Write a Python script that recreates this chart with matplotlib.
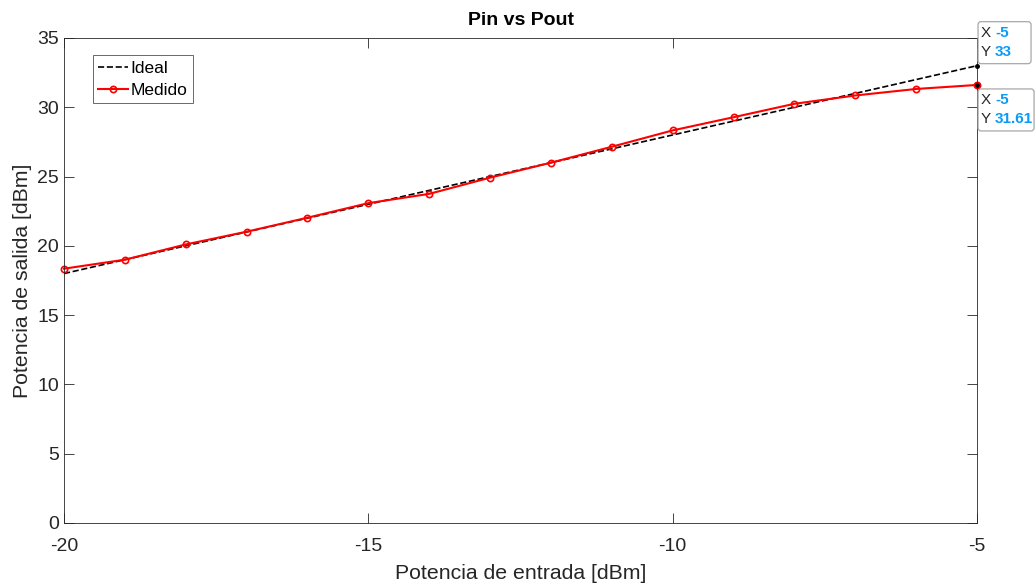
import numpy as np
import matplotlib.pyplot as plt
from matplotlib.patches import FancyBboxPatch
from matplotlib.transforms import IdentityTransform

# potencia de entrada [dBm]
pin = np.arange(-20, -4, 1)
# potencia de salida medida [dBm]
pout_medido = [18.35, 19.0, 20.1, 21.02, 22.03, 23.08, 23.75, 24.92,
               26.0, 27.15, 28.33, 29.28, 30.25, 30.85, 31.32, 31.61]
ganancia = 38  # recta ideal: Pout = Pin + G
pout_ideal = pin + ganancia

plt.rcParams["font.family"] = ["Liberation Sans", "DejaVu Sans"]
plt.rcParams["axes.unicode_minus"] = False

fig = plt.figure(figsize=(10.36, 5.84), dpi=100)
ax = fig.add_axes([0.0618, 0.1045, 0.8813, 0.8305])

ax.plot(pin, pout_ideal, "k--", linewidth=1.2, label="Ideal")
ax.plot(pin, pout_medido, "r-o", linewidth=1.5, markersize=4.5, clip_on=False,
        markerfacecolor="none", markeredgewidth=1.2, label="Medido")

ax.set_xlim(-20, -5)
ax.set_ylim(0, 35)
ax.set_xticks([-20, -15, -10, -5])
ax.set_yticks(range(0, 36, 5))
ax.tick_params(direction="in", top=True, right=True, labelsize=14,
               length=7, width=0.6, colors="#262626")
ax.tick_params(axis="x", pad=11)
for s in ax.spines.values():
    s.set_color("#262626")
    s.set_linewidth(0.6)

ax.set_title("Pin vs Pout", fontsize=14, fontweight="bold", pad=9)
ax.set_xlabel("Potencia de entrada [dBm]", fontsize=15.3, color="#262626", labelpad=6)
ax.set_ylabel("Potencia de salida [dBm]", fontsize=15.3, color="#262626", labelpad=4)

leg = ax.legend(loc="upper left", bbox_to_anchor=(0.032, 0.964), fontsize=12.5,
                frameon=True, fancybox=False, borderpad=0.3, handlelength=1.7,
                handletextpad=0.15, labelspacing=0.4, borderaxespad=0)
leg.get_frame().set_edgecolor("#262626")
leg.get_frame().set_linewidth(0.6)

# data tips en el último punto, en píxeles respecto al dato
azul = "#0a9bf5"
pix = IdentityTransform()
x_tip = pin[-1]
tips = [(pout_ideal[-1], 2, 53), (pout_medido[-1], -46, 56)]
for y_tip, dy, ancho in tips:
    ax.plot([x_tip], [y_tip], "o", color="k", markersize=2.5, clip_on=False, zorder=5)
    px, py = ax.transData.transform((x_tip, y_tip))
    caja = FancyBboxPatch((px + 1, py + dy), ancho, 42, transform=pix,
                          boxstyle="round,pad=0,rounding_size=3",
                          fc="white", ec="#a8a8a8", lw=0.9, zorder=5)
    fig.add_artist(caja)
    fig.text(px + 4, py + dy + 31, "X", transform=pix, fontsize=11,
             color="#262626", va="center", ha="left", zorder=6)
    fig.text(px + 4, py + dy + 12, "Y", transform=pix, fontsize=11,
             color="#262626", va="center", ha="left", zorder=6)
    fig.text(px + 18, py + dy + 31, "%g" % x_tip, transform=pix, fontsize=11,
             color=azul, fontweight="bold", va="center", ha="left", zorder=6)
    fig.text(px + 18, py + dy + 12, "%g" % y_tip, transform=pix, fontsize=11,
             color=azul, fontweight="bold", va="center", ha="left", zorder=6)

fig.savefig("out.png", dpi=100)
